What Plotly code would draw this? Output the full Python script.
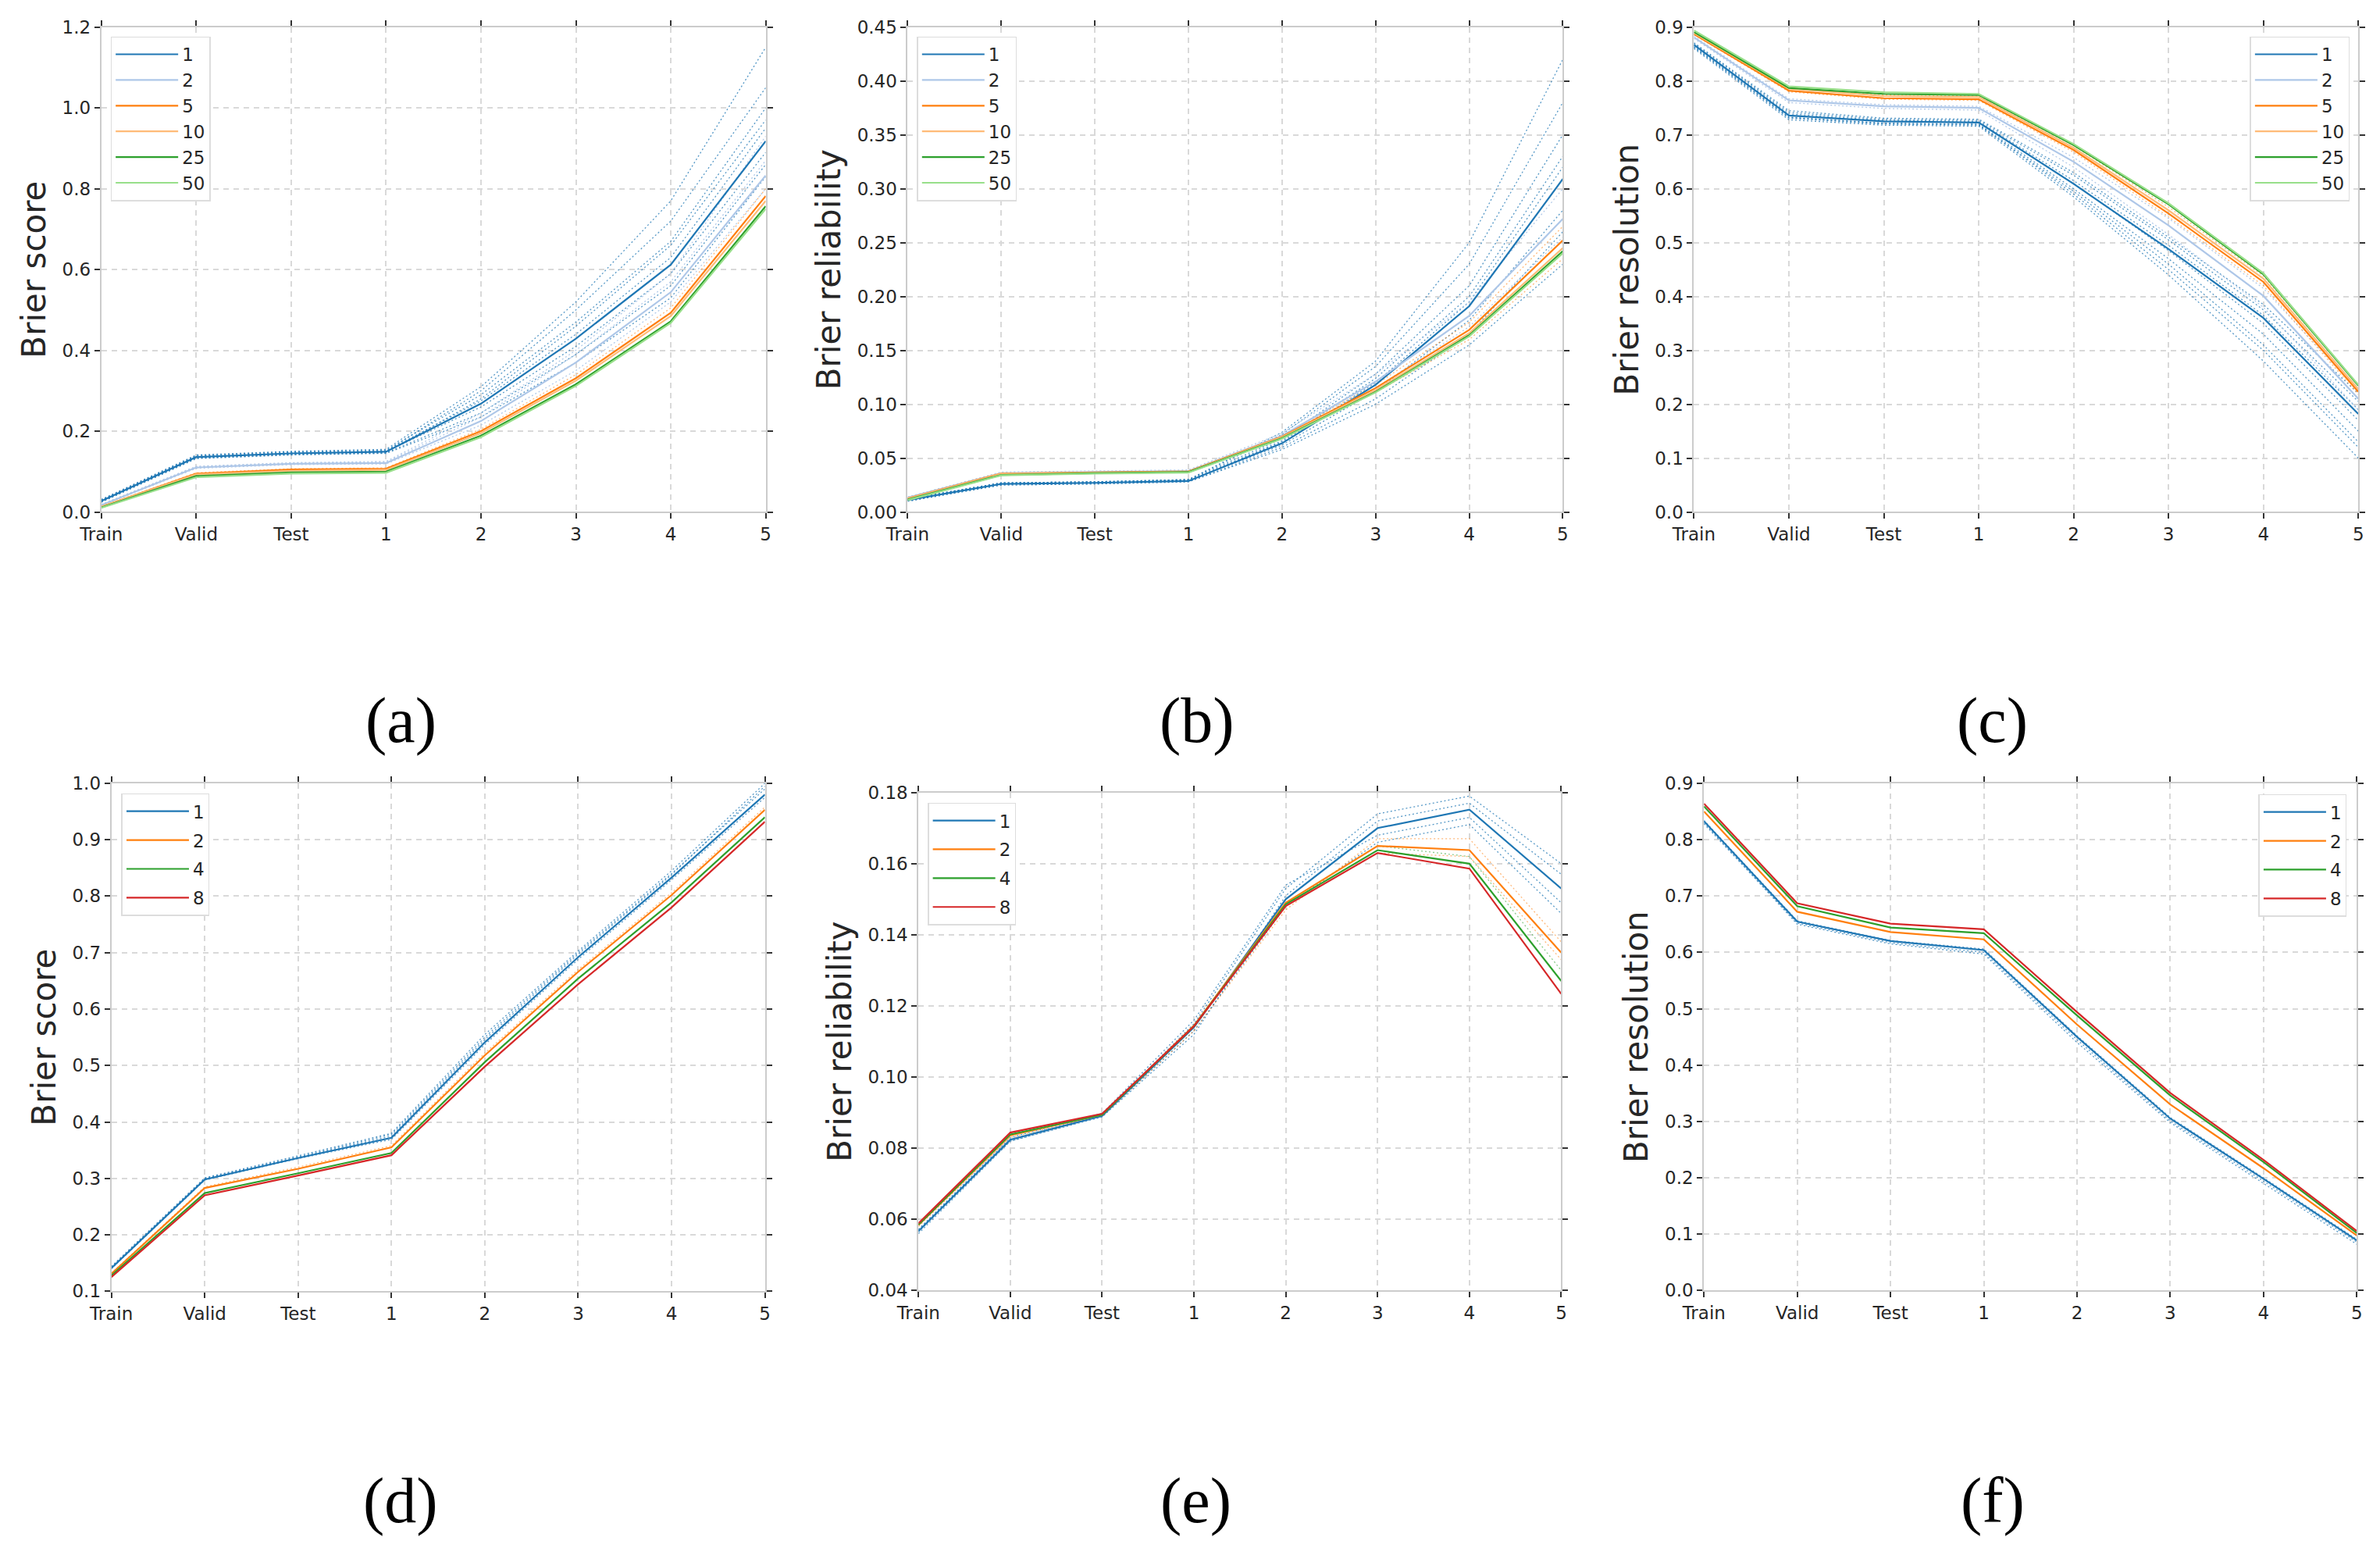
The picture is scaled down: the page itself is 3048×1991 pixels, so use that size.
import plotly.graph_objects as go

W, H = 3048, 1991

cats = ["Train", "Valid", "Test", "1", "2", "3", "4", "5"]

# ---------------- panel (a): Brier score, ensemble sizes ----------------
top_names = ["1", "2", "5", "10", "25", "50"]
top_colors = ["#1f77b4", "#aec7e8", "#ff7f0e", "#ffbb78", "#2ca02c", "#98df8a"]

a_s1 = [0.027, 0.136, 0.145, 0.149, 0.268, 0.429, 0.612, 0.918]
a_s2 = [0.017, 0.110, 0.119, 0.121, 0.225, 0.370, 0.544, 0.833]
a_s5 = [0.013, 0.095, 0.105, 0.107, 0.200, 0.331, 0.493, 0.782]
a_s10 = [0.013, 0.093, 0.102, 0.104, 0.195, 0.325, 0.485, 0.770]
a_s25 = [0.011, 0.089, 0.098, 0.100, 0.189, 0.316, 0.472, 0.757]
a_s50 = [0.010, 0.086, 0.095, 0.097, 0.185, 0.312, 0.468, 0.750]
a_runs_blue = [
    [0.025, 0.133, 0.142, 0.146, 0.245, 0.390, 0.560, 0.860],
    [0.027, 0.136, 0.145, 0.149, 0.260, 0.410, 0.590, 0.890],
    [0.029, 0.138, 0.147, 0.151, 0.275, 0.440, 0.630, 0.950],
    [0.030, 0.140, 0.149, 0.153, 0.290, 0.470, 0.670, 1.000],
    [0.026, 0.134, 0.143, 0.147, 0.280, 0.460, 0.660, 0.970],
    [0.028, 0.137, 0.146, 0.150, 0.300, 0.500, 0.720, 1.050],
    [0.031, 0.141, 0.150, 0.155, 0.310, 0.520, 0.770, 1.150],
    [0.024, 0.132, 0.141, 0.145, 0.235, 0.370, 0.530, 0.830],
]
a_runs_lblue = [
    [0.018, 0.112, 0.121, 0.123, 0.235, 0.390, 0.570, 0.870],
    [0.016, 0.108, 0.117, 0.119, 0.215, 0.350, 0.520, 0.800],
    [0.019, 0.113, 0.122, 0.125, 0.245, 0.400, 0.590, 0.930],
]
a_runs_orange = [
    [0.014, 0.097, 0.107, 0.109, 0.205, 0.340, 0.505, 0.800],
    [0.012, 0.093, 0.103, 0.105, 0.195, 0.325, 0.485, 0.770],
]

# ---------------- panel (b): Brier reliability ----------------
b_s1 = [0.011, 0.026, 0.027, 0.0287, 0.0637, 0.118, 0.191, 0.309]
b_s2 = [0.0134, 0.036, 0.0373, 0.038, 0.0707, 0.121, 0.182, 0.272]
b_s5 = [0.0127, 0.0357, 0.0367, 0.0376, 0.070, 0.115, 0.169, 0.252]
b_s10 = [0.0125, 0.0354, 0.0365, 0.0373, 0.0695, 0.113, 0.166, 0.245]
b_s25 = [0.0115, 0.0344, 0.036, 0.037, 0.0685, 0.1115, 0.164, 0.242]
b_s50 = [0.011, 0.034, 0.0355, 0.0365, 0.068, 0.111, 0.163, 0.240]
b_runs_blue = [
    [0.010, 0.025, 0.026, 0.028, 0.058, 0.100, 0.155, 0.230],
    [0.011, 0.026, 0.027, 0.029, 0.062, 0.112, 0.178, 0.280],
    [0.011, 0.026, 0.027, 0.029, 0.065, 0.120, 0.195, 0.320],
    [0.012, 0.027, 0.028, 0.030, 0.068, 0.128, 0.210, 0.350],
    [0.012, 0.027, 0.028, 0.030, 0.072, 0.135, 0.230, 0.380],
    [0.010, 0.025, 0.026, 0.028, 0.060, 0.105, 0.165, 0.260],
    [0.012, 0.027, 0.028, 0.030, 0.074, 0.140, 0.250, 0.420],
    [0.011, 0.026, 0.027, 0.029, 0.066, 0.124, 0.200, 0.330],
]
b_runs_lblue = [
    [0.014, 0.037, 0.038, 0.039, 0.073, 0.128, 0.195, 0.300],
    [0.013, 0.035, 0.036, 0.037, 0.068, 0.115, 0.172, 0.255],
]
b_runs_orange = [
    [0.013, 0.036, 0.037, 0.038, 0.071, 0.118, 0.176, 0.265],
    [0.012, 0.035, 0.036, 0.037, 0.068, 0.111, 0.160, 0.235],
]

# ---------------- panel (c): Brier resolution ----------------
c_s1 = [0.867, 0.736, 0.725, 0.723, 0.609, 0.488, 0.360, 0.182]
c_s2 = [0.881, 0.764, 0.753, 0.750, 0.650, 0.532, 0.401, 0.210]
c_s5 = [0.887, 0.782, 0.768, 0.766, 0.672, 0.554, 0.427, 0.223]
c_s10 = [0.889, 0.786, 0.772, 0.770, 0.676, 0.560, 0.433, 0.228]
c_s25 = [0.891, 0.787, 0.776, 0.774, 0.681, 0.571, 0.441, 0.2345]
c_s50 = [0.894, 0.790, 0.779, 0.776, 0.683, 0.573, 0.443, 0.236]
c_runs_blue = [
    [0.860, 0.728, 0.718, 0.716, 0.585, 0.440, 0.280, 0.100],
    [0.862, 0.731, 0.720, 0.718, 0.595, 0.460, 0.310, 0.130],
    [0.864, 0.733, 0.722, 0.720, 0.600, 0.470, 0.330, 0.150],
    [0.866, 0.736, 0.725, 0.723, 0.610, 0.485, 0.350, 0.170],
    [0.868, 0.739, 0.727, 0.725, 0.615, 0.495, 0.365, 0.190],
    [0.870, 0.742, 0.729, 0.727, 0.625, 0.505, 0.375, 0.205],
    [0.871, 0.745, 0.731, 0.729, 0.630, 0.510, 0.385, 0.220],
    [0.863, 0.732, 0.721, 0.719, 0.590, 0.450, 0.300, 0.120],
]
c_runs_lblue = [
    [0.879, 0.760, 0.749, 0.746, 0.640, 0.515, 0.380, 0.190],
    [0.883, 0.767, 0.756, 0.753, 0.658, 0.545, 0.415, 0.225],
]
c_runs_orange = [
    [0.886, 0.780, 0.766, 0.764, 0.668, 0.548, 0.420, 0.218],
    [0.890, 0.788, 0.774, 0.772, 0.680, 0.566, 0.438, 0.235],
]

# ---------------- bottom row: 1, 2, 4, 8 ----------------
bot_names = ["1", "2", "4", "8"]
bot_colors = ["#1f77b4", "#ff7f0e", "#2ca02c", "#d62728"]

d_s1 = [0.141, 0.298, 0.336, 0.372, 0.541, 0.692, 0.833, 0.980]
d_s2 = [0.131, 0.283, 0.317, 0.355, 0.518, 0.666, 0.802, 0.953]
d_s4 = [0.128, 0.274, 0.309, 0.345, 0.506, 0.654, 0.789, 0.940]
d_s8 = [0.125, 0.270, 0.305, 0.341, 0.498, 0.644, 0.780, 0.932]
d_runs_blue = [
    [0.143, 0.300, 0.338, 0.378, 0.550, 0.700, 0.840, 0.990],
    [0.142, 0.299, 0.337, 0.375, 0.546, 0.697, 0.838, 0.995],
    [0.140, 0.297, 0.335, 0.369, 0.537, 0.688, 0.829, 0.975],
    [0.144, 0.301, 0.340, 0.380, 0.555, 0.703, 0.845, 1.000],
]
d_runs_orange = [
    [0.132, 0.285, 0.320, 0.358, 0.522, 0.670, 0.806, 0.958],
]

e_s1 = [0.0567, 0.0824, 0.0891, 0.1140, 0.1500, 0.1700, 0.1752, 0.1530]
e_s2 = [0.0584, 0.0836, 0.0894, 0.1145, 0.1490, 0.1650, 0.1638, 0.1350]
e_s4 = [0.0585, 0.0839, 0.0894, 0.1143, 0.1486, 0.1638, 0.1600, 0.1270]
e_s8 = [0.0589, 0.0844, 0.0897, 0.1143, 0.1481, 0.1630, 0.1586, 0.1234]
e_runs_blue = [
    [0.0560, 0.0820, 0.0890, 0.1130, 0.1480, 0.1660, 0.1710, 0.1460],
    [0.0570, 0.0825, 0.0895, 0.1150, 0.1530, 0.1740, 0.1790, 0.1600],
    [0.0565, 0.0820, 0.0888, 0.1120, 0.1510, 0.1720, 0.1770, 0.1570],
    [0.0572, 0.0830, 0.0898, 0.1160, 0.1540, 0.1680, 0.1730, 0.1490],
]
e_runs_orange = [
    [0.0580, 0.0830, 0.0890, 0.1130, 0.1470, 0.1670, 0.1670, 0.1380],
    [0.0585, 0.0835, 0.0895, 0.1145, 0.1480, 0.1630, 0.1620, 0.1330],
]
e_runs_green = [
    [0.0585, 0.0838, 0.0894, 0.1140, 0.1490, 0.1650, 0.1620, 0.1300],
]

f_s1 = [0.8326, 0.6545, 0.620, 0.604, 0.450, 0.305, 0.198, 0.089]
f_s2 = [0.850, 0.672, 0.636, 0.623, 0.472, 0.330, 0.217, 0.0975]
f_s4 = [0.859, 0.682, 0.644, 0.634, 0.488, 0.346, 0.228, 0.102]
f_s8 = [0.864, 0.687, 0.651, 0.641, 0.494, 0.3505, 0.2316, 0.1057]
f_runs_blue = [
    [0.830, 0.650, 0.615, 0.597, 0.440, 0.298, 0.190, 0.082],
    [0.834, 0.656, 0.621, 0.606, 0.452, 0.307, 0.200, 0.091],
    [0.828, 0.652, 0.617, 0.600, 0.445, 0.301, 0.194, 0.086],
]

run_rgba = {"blue": "rgba(31,119,180,0.75)", "lblue": "rgba(174,199,232,0.95)",
            "orange": "rgba(255,127,14,0.55)", "green": "rgba(44,160,44,0.55)"}

panels = [
    dict(px=(102, 963, 22, 651), yr=(0, 1.2), dt=0.2, fmt=".1f", label="Brier score",
         names=top_names, colors=top_colors, series=[a_s1, a_s2, a_s5, a_s10, a_s25, a_s50],
         runs=[("blue", a_runs_blue), ("lblue", a_runs_lblue), ("orange", a_runs_orange)],
         leg=(114, 34, "left"), gap=0, cap="(a)", cappos=(490, 922)),
    dict(px=(1147, 1996, 22, 651), yr=(0, 0.45), dt=0.05, fmt=".2f", label="Brier reliability",
         names=top_names, colors=top_colors, series=[b_s1, b_s2, b_s5, b_s10, b_s25, b_s50],
         runs=[("blue", b_runs_blue), ("lblue", b_runs_lblue), ("orange", b_runs_orange)],
         leg=(1159, 34, "left"), gap=0, cap="(b)", cappos=(1522, 922)),
    dict(px=(2166, 3027, 22, 651), yr=(0, 0.9), dt=0.1, fmt=".1f", label="Brier resolution",
         names=top_names, colors=top_colors, series=[c_s1, c_s2, c_s5, c_s10, c_s25, c_s50],
         runs=[("blue", c_runs_blue), ("lblue", c_runs_lblue), ("orange", c_runs_orange)],
         leg=(3016, 34, "right"), gap=0, cap="(c)", cappos=(2553, 922)),
    dict(px=(115, 962, 1003, 1662), yr=(0.1, 1.0), dt=0.1, fmt=".1f", label="Brier score",
         names=bot_names, colors=bot_colors, series=[d_s1, d_s2, d_s4, d_s8],
         runs=[("blue", d_runs_blue), ("orange", d_runs_orange)],
         leg=(128, 1016, "left"), gap=4, cap="(d)", cappos=(490, 1934)),
    dict(px=(1161, 1994, 1015, 1661), yr=(0.04, 0.18), dt=0.02, fmt=".2f", label="Brier reliability",
         names=bot_names, colors=bot_colors, series=[e_s1, e_s2, e_s4, e_s8],
         runs=[("blue", e_runs_blue), ("orange", e_runs_orange), ("green", e_runs_green)],
         leg=(1173, 1028, "left"), gap=4, cap="(e)", cappos=(1520, 1934)),
    dict(px=(2179, 3025, 1003, 1661), yr=(0.0, 0.9), dt=0.1, fmt=".1f", label="Brier resolution",
         names=bot_names, colors=bot_colors, series=[f_s1, f_s2, f_s4, f_s8],
         runs=[("blue", f_runs_blue)],
         leg=(3012, 1017, "right"), gap=4, cap="(f)", cappos=(2553, 1934)),
]

fig = go.Figure()
layout = dict(width=W, height=H, margin=dict(l=0, r=0, t=0, b=0),
              paper_bgcolor="white", plot_bgcolor="white",
              font=dict(family="DejaVu Sans", color="#262626"), annotations=[])

axis_common = dict(showline=True, linecolor="#cccccc", linewidth=2, mirror="ticks",
                   ticks="outside", ticklen=7, tickwidth=1.5, tickcolor="#333333",
                   tickfont=dict(size=23, color="#262626", family="DejaVu Sans"),
                   showgrid=True, gridcolor="#d9d9d9", gridwidth=1.5, griddash="7px,6px",
                   zeroline=False)

for i, p in enumerate(panels, start=1):
    sfx = "" if i == 1 else str(i)
    xref, yref = "x" + sfx, "y" + sfx
    lg = "legend" + sfx
    l, r, t, b = p["px"]
    layout["xaxis" + sfx] = dict(axis_common, domain=[l / W, r / W], anchor=yref,
                                 type="category", categoryorder="array", categoryarray=cats,
                                 range=[0, len(cats) - 1])
    layout["yaxis" + sfx] = dict(axis_common, domain=[1 - b / H, 1 - t / H], anchor=xref,
                                 range=list(p["yr"]), dtick=p["dt"], tick0=0, tickformat=p["fmt"],
                                 title=dict(text=p["label"],
                                            font=dict(size=42, color="#262626", family="DejaVu Sans"),
                                            standoff=8))
    # individual runs (dotted)
    for ckey, runs in p["runs"]:
        for run in runs:
            fig.add_trace(go.Scatter(x=cats, y=run, mode="lines", xaxis=xref, yaxis=yref,
                                     line=dict(color=run_rgba[ckey], width=1.3, dash="2px,3px"),
                                     showlegend=False, hoverinfo="skip", legend=lg))
    # mean lines
    for name, col, ser in zip(p["names"], p["colors"], p["series"]):
        fig.add_trace(go.Scatter(x=cats, y=ser, mode="lines", name=name, xaxis=xref, yaxis=yref,
                                 line=dict(color=col, width=2.2), legend=lg,
                                 legendgroup=lg + name))
    lx, ly, side = p["leg"]
    layout[lg] = dict(x=lx / W, y=1 - ly / H, xanchor=side, yanchor="top",
                      bgcolor="white", bordercolor="#dddddd", borderwidth=1.5,
                      font=dict(size=23, color="#262626"), itemwidth=80,
                      tracegroupgap=p["gap"], traceorder="grouped")
    cx, cy = p["cappos"]
    layout["annotations"].append(dict(text=p["cap"], xref="paper", yref="paper",
                                      x=cx / W, y=1 - cy / H, xanchor="center", yanchor="middle",
                                      showarrow=False,
                                      font=dict(family="Liberation Serif", size=82, color="black")))

fig.update_layout(**layout)
fig.write_html("out.html",
               post_script="document.body.style.margin='0';document.body.style.padding='0';")
